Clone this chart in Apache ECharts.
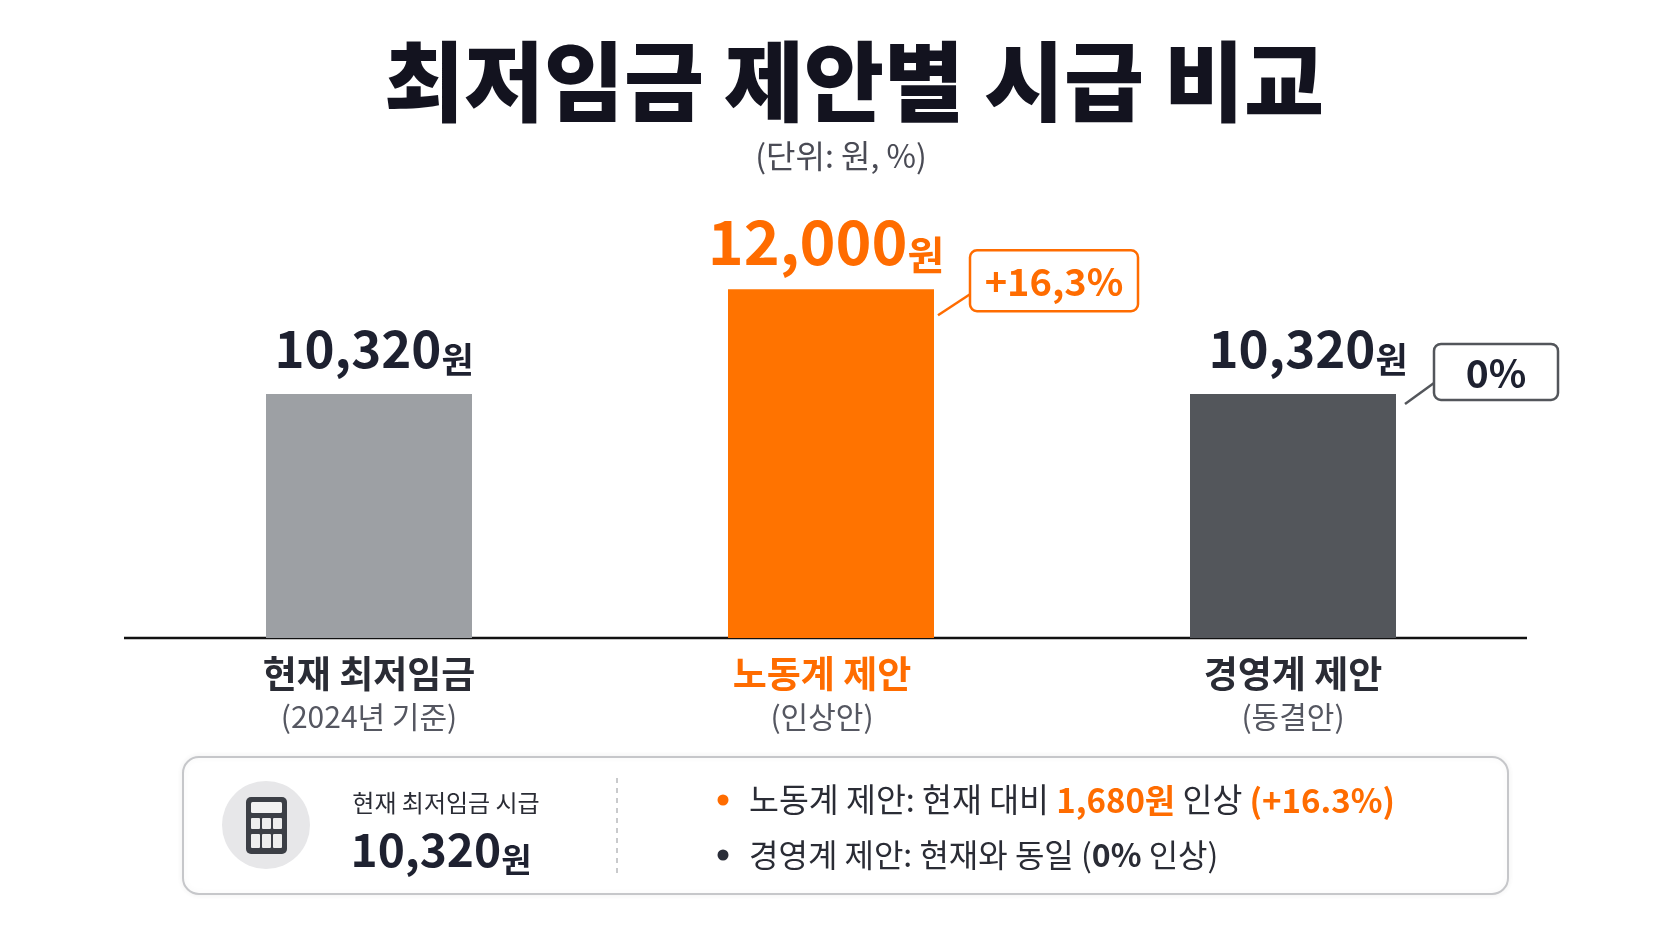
<!DOCTYPE html>
<html>
<head>
<meta charset="utf-8">
<script src="https://cdn.jsdelivr.net/npm/echarts@6/dist/echarts.min.js"></script>
<style>
html,body{margin:0;padding:0;background:#ffffff;}
#c{width:1672px;height:941px;}
</style>
</head>
<body>
<div id="c"></div>
<script>
// ---- data ----
var categories = ['현재 최저임금', '노동계 제안', '경영계 제안'];
var subLabels = ['(2024년 기준)', '(인상안)', '(동결안)'];
var wages = [10320, 12000, 10320];
var barColors = ['#9da0a4', '#ff7300', '#53565b'];
var labelColors = ['#1e2130', '#ff6c00', '#1e2130'];
var callouts = [null, '+16,3%', '0%'];
var calloutColors = [null, '#ff6c00', '#53565b'];
var summaryTitle = '현재 최저임금 시급';
var summaryValue = '10,320';
var bullet1 = ['노동계 제안: 현재 대비 ', '1,680원', ' 인상 ', '(+16.3%)'];
var bullet2 = ['경영계 제안: 현재와 동일 (', '0%', ' 인상)'];

var FONT = '"Noto Sans CJK KR", "Noto Sans", sans-serif';
var DARK = '#1e2130';
var ORANGE = '#ff6c00';
var BAR_W = 206;
var labelShift = [5, -5, 15];

function fmt(v){ return v.toLocaleString('en-US'); }

var chart = echarts.init(document.getElementById('c'));

var option = {
  backgroundColor: '#ffffff',
  textStyle: { fontFamily: FONT },
  animation: false,
  grid: { left: 138, right: 148, top: 227, bottom: 303, containLabel: false },
  xAxis: {
    type: 'category',
    data: categories,
    axisLine: { show: false },
    axisTick: { show: false },
    axisLabel: {
      margin: 13,
      interval: 0,
      formatter: function (v, i) {
        if (i === 1) return '{ao|' + v + '}\n{bo|' + subLabels[i] + '}';
        return '{a|' + v + '}\n{b|' + subLabels[i] + '}';
      },
      rich: {
        a: { fontFamily: FONT, fontSize: 37, fontWeight: 'bold', color: '#2a2c35', lineHeight: 46 },
        ao: { fontFamily: FONT, fontSize: 37, fontWeight: 'bold', color: ORANGE, lineHeight: 46, padding: [0, 18, 0, 0] },
        b: { fontFamily: FONT, fontSize: 30, fontWeight: 'normal', color: '#555761', lineHeight: 40 },
        bo: { fontFamily: FONT, fontSize: 30, fontWeight: 'normal', color: '#555761', lineHeight: 40, padding: [0, 18, 0, 0] }
      }
    }
  },
  yAxis: {
    type: 'value', min: 6400, max: 13000, show: false,
    splitLine: { show: false }
  },
  series: [{
    type: 'bar',
    barWidth: BAR_W,
    data: wages.map(function (v, i) {
      var big = i === 1;
      var c = labelColors[i];
      return {
        value: v,
        itemStyle: { color: barColors[i] },
        label: {
          show: true, position: 'top', distance: big ? 14 : 17,
          offset: [labelShift[i], 0],
          formatter: '{v|' + fmt(v) + '}{u|원}',
          rich: {
            v: { fontFamily: FONT, fontSize: big ? 61 : 51, fontWeight: 'bold', color: c, lineHeight: big ? 66 : 56 },
            u: { fontFamily: FONT, fontSize: big ? 40 : 35, fontWeight: 'bold', color: c, lineHeight: big ? 46 : 41, verticalAlign: 'bottom' }
          }
        }
      };
    })
  }]
};
chart.setOption(option);

// ---- title, axis line, callouts & summary panel ----
var g = [];
g.push({ type: 'text', style: { text: '최저임금 제안별 시급 비교', x: 854, y: 82, align: 'center', verticalAlign: 'middle',
  font: '900 87px ' + FONT, fill: '#13131f' } });
g.push({ type: 'text', style: { text: '(단위: 원, %)', x: 841, y: 156, align: 'center', verticalAlign: 'middle',
  font: '32px ' + FONT, fill: '#4a4b55' } });

var base = chart.convertToPixel({ yAxisIndex: 0 }, 6400);
g.push({ type: 'line', shape: { x1: 124, y1: base, x2: 1527, y2: base }, style: { stroke: '#111111', lineWidth: 2.5 } });

wages.forEach(function (v, i) {
  if (!callouts[i]) return;
  var p = chart.convertToPixel({ seriesIndex: 0 }, [i, v]);
  var rx = p[0] + BAR_W / 2;
  var ty = p[1];
  var big = i === 1;
  var bw = big ? 168 : 124, bh = big ? 61 : 56;
  var bx = rx + (big ? 36 : 38), by = ty - (big ? 39 : 50);
  var col = calloutColors[i];
  g.push({ type: 'line', shape: { x1: rx + (big ? 4 : 9), y1: ty + (big ? 26 : 10), x2: bx, y2: by + bh * (big ? 0.72 : 0.7) },
    style: { stroke: col, lineWidth: 2.5 } });
  g.push({ type: 'rect', shape: { x: bx, y: by, width: bw, height: bh, r: 7 },
    style: { fill: '#ffffff', stroke: col, lineWidth: 2.5 } });
  g.push({ type: 'text', style: { text: callouts[i], x: bx + bw / 2, y: by + bh / 2 + 1, align: 'center', verticalAlign: 'middle',
    font: 'bold ' + (big ? 38 : 39) + 'px ' + FONT, fill: big ? ORANGE : DARK } });
});

// summary panel
g.push({ type: 'rect', shape: { x: 183, y: 757, width: 1325, height: 137, r: 16 },
  style: { fill: '#ffffff', stroke: '#c6c7ca', lineWidth: 2, shadowBlur: 6, shadowColor: 'rgba(0,0,0,0.06)' } });
g.push({ type: 'circle', shape: { cx: 266, cy: 825, r: 44 }, style: { fill: '#e7e7e9' } });
// calculator icon
g.push({ type: 'rect', shape: { x: 246, y: 797, width: 41, height: 57, r: 5 }, style: { fill: '#3c3f46' } });
g.push({ type: 'rect', shape: { x: 251, y: 802, width: 31, height: 11, r: 1.5 }, style: { fill: '#f2f2f2' } });
[[251, 818], [262, 818], [273, 818], [251, 834], [262, 834], [273, 834]].forEach(function (b, k) {
  g.push({ type: 'rect', shape: { x: b[0], y: b[1], width: 9, height: k < 3 ? 11 : 14, r: 1 }, style: { fill: '#eeeeee' } });
});
g.push({ type: 'text', style: { text: summaryTitle, x: 446, y: 803, align: 'center', verticalAlign: 'middle',
  font: '24px ' + FONT, fill: '#2a2c35' } });
g.push({ type: 'text', style: { text: '{v|' + summaryValue + '}{u|원}', x: 441, y: 850, align: 'center', verticalAlign: 'middle',
  rich: {
    v: { fontFamily: FONT, fontSize: 46, fontWeight: 'bold', fill: DARK, lineHeight: 52 },
    u: { fontFamily: FONT, fontSize: 33, fontWeight: 'bold', fill: DARK, lineHeight: 40, verticalAlign: 'bottom' }
  } } });
g.push({ type: 'line', shape: { x1: 617, y1: 778, x2: 617, y2: 873 },
  style: { stroke: '#b8b9bc', lineWidth: 1.5, lineDash: [5, 5] } });
g.push({ type: 'circle', shape: { cx: 723, cy: 800, r: 5.5 }, style: { fill: ORANGE } });
g.push({ type: 'circle', shape: { cx: 723, cy: 855, r: 5.5 }, style: { fill: '#2a2d38' } });
g.push({ type: 'text', style: {
  text: '{n|' + bullet1[0] + '}{o|' + bullet1[1] + '}{n|' + bullet1[2] + '}{o|' + bullet1[3] + '}',
  x: 749, y: 800, align: 'left', verticalAlign: 'middle',
  rich: {
    n: { fontFamily: FONT, fontSize: 32.5, fontWeight: 'normal', fill: '#2a2c35', lineHeight: 40 },
    o: { fontFamily: FONT, fontSize: 33, fontWeight: 'bold', fill: ORANGE, lineHeight: 40 }
  } } });
g.push({ type: 'text', style: {
  text: '{n|' + bullet2[0] + '}{b|' + bullet2[1] + '}{n|' + bullet2[2] + '}',
  x: 749, y: 855, align: 'left', verticalAlign: 'middle',
  rich: {
    n: { fontFamily: FONT, fontSize: 32, fontWeight: 'normal', fill: '#2a2c35', lineHeight: 40 },
    b: { fontFamily: FONT, fontSize: 32, fontWeight: 'bold', fill: '#2a2c35', lineHeight: 40 }
  } } });

chart.setOption({ graphic: { elements: g } });
</script>
</body>
</html>
